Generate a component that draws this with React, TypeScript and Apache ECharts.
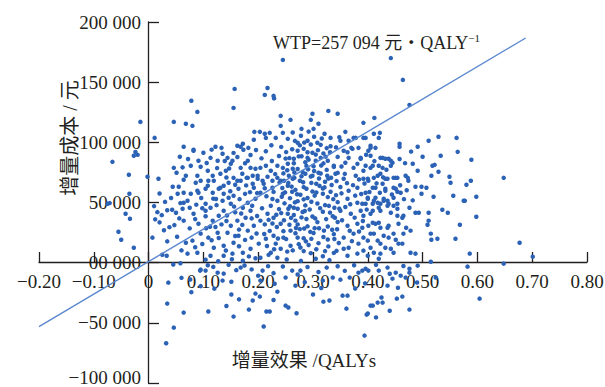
import React, { useEffect, useRef } from "react";
import * as echarts from "echarts";

// Tick labels
const xTickValues = [-0.2, -0.1, 0, 0.1, 0.2, 0.3, 0.4, 0.5, 0.6, 0.7, 0.8];
const yTickLabels: Record<string, string> = {
  "-100000": "{low|−100 000}",
  "-50000": "−50 000",
  "0": "00 000",
  "50000": "50 000",
  "100000": "100 000",
  "150000": "150 000",
  "200000": "200 000",
};

// WTP threshold line (endpoints)
const wtpLine: [number, number][] = [
  [-0.2, -53100],
  [0.688, 186700],
];

// Scatter points [incremental QALYs, incremental cost (yuan)]
const negativePts: [number, number][] = [
  [0.036,-16600],[0.034,-34000],[0.064,-41500],[0.046,-54000],[0.032,-67000],[0.094,-6600],[0.076,-14000],[0.095,-5800],
  [0.104,-6600],[0.126,-8300],[0.137,-9100],[0.12,-21600],[0.109,-40600],[0.151,-15800],[0.151,-26500],[0.155,-44800],
  [0.168,-4100],[0.183,-39000],[0.19,-31500],[0.195,-25700],[0.203,-28200],[0.21,-53100],[0.215,-40600],[0.221,-40600],
  [0.204,-14900],[0.208,-6600],[0.235,-24100],[0.25,-12400],[0.25,-35700],[0.255,-37300],[0.262,-6600],[0.268,-19100],
  [0.277,-6600],[0.3,-26500],[0.319,-32400],[0.318,-14900],[0.336,-12400],[0.35,-14100],[0.354,-27400],[0.363,-27400],
  [0.361,-38200],[0.367,-12400],[0.383,-8300],[0.39,-6600],[0.4,-42300],[0.394,-60600],[0.405,-35700],[0.2,-10800],
  [0.135,-14900],[0.396,-5000],[0.401,-6600],[0.42,-6600],[0.436,-4100],[0.445,-13300],[0.451,-8300],[0.46,-10800],
  [0.469,-12400],[0.476,-5000],[0.476,-8300],[0.436,-19100],[0.425,-29000],[0.427,-33200],[0.418,-33200],[0.409,-35700],
  [0.398,-43200],[0.453,-29900],[0.463,-28200],[0.476,-39000],[0.491,-2500],[0.524,-12400],[0.582,-3300],[0.604,-29900],
  [0.648,-800],[0.058,-500],[0.045,-1500],[0.108,-2200],[0.118,-3500],[0.146,-1800],[0.16,-6200],[0.175,-2400],
  [0.188,-5600],[0.218,-2900],[0.228,-8700],[0.245,-3200],[0.272,-9800],[0.29,-3600],[0.31,-7800],[0.325,-4100],
  [0.345,-3000],[0.358,-6800],[0.375,-2200],[0.415,-1800],[0.44,-9200],[0.465,-2800],[0.095,-19500],[0.078,-24500],
  [0.06,-12600],[0.23,-17500],[0.285,-16200],[0.315,-21000],[0.33,-31500],[0.27,-42000],[0.165,-30500],[0.142,-36000],
  [0.228,-31000],[0.377,-21500],[0.395,-17200],[0.455,-20800],[0.49,-16500],[0.44,-40000],[0.415,-45500],
];

const outlierPts: [number, number][] = [
  [-0.066,83800],[-0.036,73000],[-0.015,117000],[0.011,103700],[-0.002,71400],[0.018,69700],[-0.027,88800],[-0.02,89600],
  [-0.024,92000],[-0.035,57300],[-0.075,49000],[-0.071,49500],[-0.042,40600],[-0.034,36500],[-0.055,25700],[-0.05,19000],
  [-0.027,12400],[0.007,20800],[0.034,17700],[0.025,6600],[0.033,5800],[0.046,117000],[0.068,115400],[0.078,134500],
  [0.08,113700],[0.089,125300],[0.064,96300],[0.082,93000],[0.057,88000],[0.157,144400],[0.155,128600],[0.217,145200],
  [0.212,139400],[0.228,138600],[0.229,136500],[0.245,168500],[0.442,170000],[0.464,151900],[0.476,131100],[0.412,120300],
  [0.392,116200],[0.241,122000],[0.241,113700],[0.259,118700],[0.245,107900],[0.299,123700],[0.296,118700],[0.31,115400],
  [0.328,126100],[0.345,123700],[0.279,111200],[0.301,111200],[0.648,70500],[0.677,16600],[0.701,5000],[0.586,7500],
  [0.589,85500],
];

const coreLeftPts: [number, number][] = [
  [0.122,96300],[0.133,95400],[0.162,97100],[0.168,96300],[0.182,95400],[0.192,102100],[0.082,93800],[0.046,78800],
  [0.051,74700],[0.044,63100],[0.055,63100],[0.064,68900],[0.077,80500],[0.091,84700],[0.1,91300],[0.113,87100],
  [0.126,84700],[0.135,90500],[0.144,87100],[0.153,84700],[0.162,87800],[0.172,98800],[0.173,93800],[0.095,79700],
  [0.108,76400],[0.089,72200],[0.095,68100],[0.108,63900],[0.119,68100],[0.131,73900],[0.141,76400],[0.15,82200],
  [0.168,78800],[0.181,84700],[0.186,78800],[0.195,78000],[0.179,70500],[0.168,68100],[0.155,70500],[0.146,66400],
  [0.137,63900],[0.128,61400],[0.117,58100],[0.104,61400],[0.091,58100],[0.077,57300],[0.064,58100],[0.053,57300],
  [0.19,72200],[0.199,69700],[0.068,72200],[0.086,66400],[0.064,49800],[0.071,51500],[0.089,59800],[0.109,68100],
  [0.117,72200],[0.131,62200],[0.137,57300],[0.135,51500],[0.104,49000],[0.104,43200],[0.082,40600],[0.064,34900],
  [0.091,32400],[0.117,34900],[0.128,39000],[0.137,43200],[0.15,49000],[0.155,55600],[0.164,61400],[0.162,68100],
  [0.181,70500],[0.19,65600],[0.181,49800],[0.172,45600],[0.186,43200],[0.177,37300],[0.162,34900],[0.15,30700],
  [0.144,24900],[0.126,24900],[0.109,20800],[0.095,24100],[0.08,18300],[0.068,16600],[0.119,12400],[0.137,14100],
  [0.155,16600],[0.164,22400],[0.181,26600],[0.192,30700],[0.186,11600],[0.172,8300],[0.153,7500],[0.137,5800],
  [0.113,5800],[0.089,8300],[0.071,7500],[0.195,53100],[0.199,72200],[0.012,36000],[0.016,42000],[0.02,33500],
  [0.024,39500],[0.034,43500],[0.043,44000],[0.05,41500],[0.056,36800],[0.062,44800],[0.047,31200],[0.038,29500],
  [0.028,27000],[0.03,50500],[0.041,53800],[0.058,49500],[0.02,57500],[0.01,47000],[0.052,21500],[0.075,28500],
  [0.085,12800],[0.098,15500],[0.06,10200],[0.112,29800],[0.124,47800],[0.142,34600],[0.158,41800],[0.166,52800],
  [0.176,57200],[0.192,62300],[0.146,53900],[0.118,53200],[0.098,45200],[0.075,45600],[0.085,36200],[0.104,38600],
  [0.115,18600],[0.128,20500],[0.141,10100],[0.165,13600],[0.176,18900],[0.188,20800],[0.197,24200],[0.152,2800],
  [0.172,1600],[0.127,1200],[0.104,2500],[0.183,5200],[0.195,3700],[0.198,38800],[0.189,47300],[0.198,57800],
  [0.142,70800],[0.125,78600],[0.106,82800],[0.155,91200],[0.186,89500],[0.196,93600],[0.176,82600],[0.115,93900],
  [0.072,86200],[0.062,79200],
];

const coreMidPts: [number, number][] = [
  [0.203,108700],[0.212,107100],[0.214,103700],[0.221,107900],[0.232,103700],[0.254,102900],[0.272,99600],[0.29,101300],
  [0.308,99600],[0.321,107100],[0.332,103700],[0.204,78800],[0.214,80500],[0.223,76400],[0.235,80500],[0.245,78800],
  [0.254,82200],[0.263,78000],[0.265,86300],[0.272,93000],[0.283,94600],[0.29,87100],[0.299,91300],[0.305,84700],
  [0.314,87100],[0.327,84700],[0.338,80500],[0.341,73900],[0.326,72200],[0.31,74700],[0.299,72200],[0.286,73900],
  [0.276,68100],[0.266,70500],[0.256,72200],[0.247,68100],[0.235,70500],[0.226,68100],[0.217,71400],[0.208,68100],
  [0.193,108700],[0.21,65600],[0.204,58100],[0.223,47300],[0.235,51500],[0.245,57300],[0.254,63900],[0.263,69700],
  [0.241,68100],[0.226,62200],[0.228,37300],[0.241,32400],[0.254,40600],[0.265,45600],[0.268,34900],[0.259,26600],
  [0.246,20800],[0.228,22400],[0.214,19900],[0.201,15800],[0.223,8300],[0.241,11600],[0.259,14100],[0.272,20800],
  [0.235,4100],[0.204,4100],[0.204,34900],[0.217,40600],[0.276,97500],[0.296,98200],[0.314,97900],[0.332,96700],
  [0.29,91800],[0.305,89800],[0.323,88100],[0.345,87900],[0.265,82600],[0.286,83400],[0.301,80100],[0.319,82500],
  [0.338,79600],[0.281,75300],[0.296,71600],[0.314,74100],[0.328,69800],[0.345,74600],[0.268,60500],[0.283,62800],
  [0.299,59200],[0.318,61600],[0.332,58900],[0.35,62900],[0.272,51100],[0.29,53800],[0.308,49200],[0.327,54500],
  [0.345,50300],[0.265,39600],[0.281,42100],[0.299,38400],[0.318,42300],[0.336,38600],[0.272,31800],[0.29,30200],
  [0.308,33700],[0.327,30100],[0.345,33800],[0.268,24500],[0.283,20300],[0.301,24600],[0.319,21300],[0.338,23700],
  [0.274,15400],[0.292,14700],[0.31,16200],[0.328,13500],[0.347,16300],[0.296,7900],[0.318,5300],[0.338,8100],
  [0.215,55200],[0.228,58800],[0.238,44500],[0.248,49300],[0.258,53600],[0.262,58900],[0.277,56400],[0.286,47600],
  [0.294,44200],[0.303,55700],[0.312,63800],[0.322,67200],[0.334,64600],[0.342,56100],[0.348,44900],[0.313,45300],
  [0.324,36200],[0.335,27400],[0.303,28700],[0.288,36300],[0.276,27900],[0.257,31500],[0.246,26200],[0.234,29600],
  [0.221,26400],[0.212,31800],[0.207,45200],[0.232,15800],[0.251,19600],[0.263,10200],[0.283,9600],[0.306,11200],
  [0.327,19200],[0.343,9800],[0.252,2600],[0.278,1500],[0.305,3300],[0.33,2100],[0.272,44800],[0.244,62100],
  [0.255,66300],[0.282,66800],[0.306,65600],[0.291,77600],[0.272,77900],[0.246,74200],[0.225,84500],[0.238,88600],
  [0.251,91900],[0.262,94200],[0.214,92600],[0.224,97600],[0.242,96200],[0.206,86700],[0.331,91700],[0.342,95800],
  [0.348,104200],[0.278,105500],[0.263,108200],[0.292,108900],[0.316,103200],[0.257,86900],[0.279,88400],[0.309,93500],
  [0.243,54800],[0.267,50100],[0.297,50600],[0.318,57300],[0.339,45600],[0.229,11200],[0.216,13800],[0.26,37200],
  [0.284,28400],[0.32,26600],[0.34,37300],[0.287,17700],[0.255,44800],
];

const coreDensePts: [number, number][] = [
  [0.212,61800],[0.226,52900],[0.231,73600],[0.239,66700],[0.249,58400],[0.253,76800],[0.261,63200],[0.266,74900],
  [0.271,56900],[0.274,88300],[0.279,71800],[0.283,52600],[0.288,61400],[0.292,85600],[0.297,66300],[0.302,76200],
  [0.306,58300],[0.311,69900],[0.315,80700],[0.321,62600],[0.325,77100],[0.329,47200],[0.333,70600],[0.337,52800],
  [0.343,67800],[0.352,57600],[0.358,73800],[0.362,66100],[0.368,48600],[0.373,64400],[0.377,55700],[0.384,69200],
  [0.388,57100],[0.394,65800],[0.398,44100],[0.403,58700],[0.219,35600],[0.233,39800],[0.247,35200],[0.258,46900],
  [0.269,28800],[0.279,37600],[0.285,42900],[0.295,25600],[0.304,36800],[0.311,28600],[0.322,47800],[0.331,41600],
  [0.344,27800],[0.353,35200],[0.359,46200],[0.367,26500],[0.376,37400],[0.384,25900],[0.391,34600],[0.356,11600],
  [0.371,17900],[0.339,19700],[0.322,9600],[0.297,19800],[0.277,12600],[0.253,9200],[0.236,20100],[0.219,6500],
  [0.165,27500],[0.171,31400],[0.158,64800],[0.147,78200],[0.139,84500],[0.171,73900],[0.185,58600],[0.178,64200],
  [0.123,52900],[0.113,45600],[0.096,53800],[0.087,48200],[0.156,46600],[0.143,39200],[0.122,29600],[0.133,31800],
  [0.105,28600],[0.158,22200],[0.149,59400],[0.188,36800],[0.169,40800],[0.211,23800],[0.226,32600],[0.242,41200],
  [0.25,86500],[0.284,99800],[0.302,104700],[0.267,101200],[0.325,95200],[0.288,80400],[0.319,90800],[0.352,79900],
  [0.363,91800],[0.381,82100],[0.397,89700],[0.412,84400],[0.416,65900],[0.428,70900],[0.444,56600],[0.459,64300],
  [0.466,52800],[0.471,60200],[0.482,51800],[0.468,82700],[0.458,86200],[0.479,92300],
];

const coreRightPts: [number, number][] = [
  [0.359,108700],[0.35,101300],[0.365,101300],[0.374,103700],[0.396,103700],[0.383,95400],[0.37,95400],[0.392,103700],
  [0.411,107100],[0.422,107900],[0.458,98800],[0.458,96300],[0.491,96300],[0.405,97100],[0.414,95400],[0.401,93000],
  [0.387,87100],[0.396,80500],[0.405,78800],[0.42,80500],[0.434,77200],[0.423,73900],[0.411,70500],[0.392,76400],
  [0.392,69700],[0.401,68100],[0.432,69700],[0.427,65600],[0.409,62200],[0.396,58100],[0.422,58100],[0.432,61400],
  [0.414,54000],[0.4,54000],[0.429,51500],[0.438,49000],[0.447,47300],[0.409,49000],[0.39,49000],[0.42,45600],
  [0.438,86300],[0.445,83000],[0.442,80500],[0.427,87100],[0.423,87100],[0.432,86300],[0.5,88000],[0.491,76400],
  [0.482,82200],[0.473,70500],[0.474,68100],[0.487,63100],[0.498,63100],[0.469,72200],[0.451,70500],[0.447,70500],
  [0.451,61400],[0.454,58900],[0.46,58100],[0.447,54000],[0.476,45600],[0.356,93000],[0.372,94600],[0.405,95400],
  [0.378,103700],[0.42,103700],[0.365,87100],[0.387,86300],[0.405,88800],[0.442,84700],[0.427,78800],[0.409,80500],
  [0.374,78800],[0.359,83000],[0.356,69700],[0.378,72200],[0.4,69700],[0.418,72200],[0.436,69700],[0.454,70500],
  [0.447,62200],[0.432,59800],[0.414,62200],[0.381,62200],[0.365,59800],[0.363,53100],[0.381,49800],[0.4,53100],
  [0.418,49800],[0.436,51500],[0.454,49000],[0.442,41500],[0.423,43200],[0.405,40600],[0.387,43200],[0.369,40600],
  [0.35,43200],[0.363,30700],[0.381,32400],[0.401,30700],[0.42,33200],[0.438,30700],[0.456,32400],[0.447,24100],
  [0.429,22400],[0.411,24100],[0.392,20800],[0.374,24100],[0.356,20800],[0.365,12400],[0.383,15800],[0.405,12400],
  [0.423,15800],[0.442,11600],[0.381,7500],[0.363,5800],[0.4,5800],[0.42,3300],[0.487,41500],[0.493,41500],
  [0.478,26600],[0.47,29000],[0.465,24100],[0.463,15800],[0.451,19100],[0.456,15800],[0.447,8300],[0.478,8300],
  [0.487,7500],[0.465,39000],[0.454,39000],[0.454,44800],[0.463,37300],[0.438,20800],[0.432,12400],[0.436,29000],
  [0.423,29000],[0.418,18300],[0.411,8300],[0.423,7500],[0.405,24100],[0.4,18300],[0.414,32400],[0.409,33200],
  [0.409,43200],[0.423,49000],[0.429,53100],[0.436,47300],[0.411,51500],[0.396,49000],[0.392,39000],[0.39,29000],
  [0.392,10000],
];

const fringePts: [number, number][] = [
  [0.511,101300],[0.529,104600],[0.562,103700],[0.564,92100],[0.533,88800],[0.549,71400],[0.551,66400],[0.58,64700],
  [0.588,68100],[0.598,54800],[0.556,55600],[0.577,51500],[0.52,54800],[0.529,75500],[0.522,81300],[0.518,80500],
  [0.516,72200],[0.507,62200],[0.598,38200],[0.575,51500],[0.546,41500],[0.536,44000],[0.498,57300],[0.511,41500],
  [0.511,34900],[0.509,31500],[0.515,24100],[0.516,19100],[0.527,19900],[0.568,31500],[0.56,19900],[0.515,800],
];

const serif = '"Liberation Serif","Times New Roman","Noto Sans CJK SC",serif';
const ink = "#231f20";

function fmtX(v: number): string {
  if (Math.abs(v) < 1e-9) return "0";
  return (v < 0 ? "−" : "") + Math.abs(v).toFixed(2);
}

export default function App() {
  const ref = useRef<HTMLDivElement>(null);
  useEffect(() => {
    if (!ref.current) return;
    const chart = echarts.init(ref.current, undefined, { renderer: "svg" });
    const allPts = [
      ...negativePts,
      ...outlierPts,
      ...coreLeftPts,
      ...coreMidPts,
      ...coreDensePts,
      ...coreRightPts,
      ...fringePts,
    ];
    chart.setOption({
      animation: false,
      backgroundColor: "#ffffff",
      grid: { left: 39, right: 18, top: 22, bottom: 4, containLabel: false, outerBoundsMode: "none" },
      xAxis: {
        type: "value",
        position: "bottom",
        offset: -121,
        min: xTickValues[0],
        max: xTickValues[xTickValues.length - 1],
        interval: 0.1,
        axisLine: { onZero: false, lineStyle: { color: ink, width: 1.3 } },
        axisTick: { inside: true, length: 10, lineStyle: { color: ink, width: 1.3 } },
        axisLabel: {
          fontFamily: serif,
          fontSize: 19,
          color: ink,
          margin: 10,
          showMinLabel: true,
          showMaxLabel: true,
          hideOverlap: false,
          formatter: (v: number) => fmtX(v),
        },
        splitLine: { show: false },
      },
      yAxis: {
        type: "value",
        position: "left",
        offset: -109,
        min: -100000,
        max: 200000,
        interval: 50000,
        axisLine: { onZero: false, lineStyle: { color: ink, width: 1.3 } },
        axisTick: { inside: true, length: 11, lineStyle: { color: ink, width: 1.3 } },
        axisLabel: {
          fontFamily: serif,
          fontSize: 19,
          color: ink,
          margin: 7,
          showMinLabel: true,
          showMaxLabel: true,
          hideOverlap: false,
          formatter: (v: number) => yTickLabels[String(Math.round(v))] ?? String(v),
          rich: {
            low: { fontFamily: serif, fontSize: 19, color: ink, lineHeight: 19, padding: [0, 0, 11, 0] },
          },
        },
        splitLine: { show: false },
      },
      series: [
        {
          type: "scatter",
          data: allPts,
          symbolSize: 4.5,
          itemStyle: { color: "#2b62b6", opacity: 1 },
          z: 2,
        },
        {
          type: "line",
          data: wtpLine,
          symbol: "none",
          lineStyle: { color: "#5a87cf", width: 1.4 },
          z: 3,
        },
      ],
      graphic: [
        {
          type: "text",
          x: 70,
          y: 138,
          rotation: Math.PI / 2,
          style: {
            text: "增量成本 / 元",
            fontFamily: serif,
            fontSize: 20,
            fill: ink,
            align: "center",
            verticalAlign: "middle",
          },
        },
        {
          type: "text",
          x: 304,
          y: 360,
          style: {
            text: "增量效果 /QALYs",
            fontFamily: serif,
            fontSize: 19,
            fill: ink,
            align: "center",
            verticalAlign: "middle",
          },
        },
        {
          type: "text",
          x: 273,
          y: 42,
          style: {
            text: "{a|WTP=257 094 元・QALY}{s|−1}",
            fontFamily: serif,
            fill: ink,
            align: "left",
            verticalAlign: "middle",
            rich: {
              a: { fontFamily: serif, fontSize: 18, fill: ink, lineHeight: 20, verticalAlign: "bottom" },
              s: { fontFamily: serif, fontSize: 11, fill: ink, lineHeight: 20, verticalAlign: "top" },
            },
          },
        },
      ],
    });
    return () => chart.dispose();
  }, []);
  return (
    <div
      ref={ref}
      style={{ width: 605, height: 387, position: "fixed", left: 0, top: 0, background: "#fff" }}
    />
  );
}
